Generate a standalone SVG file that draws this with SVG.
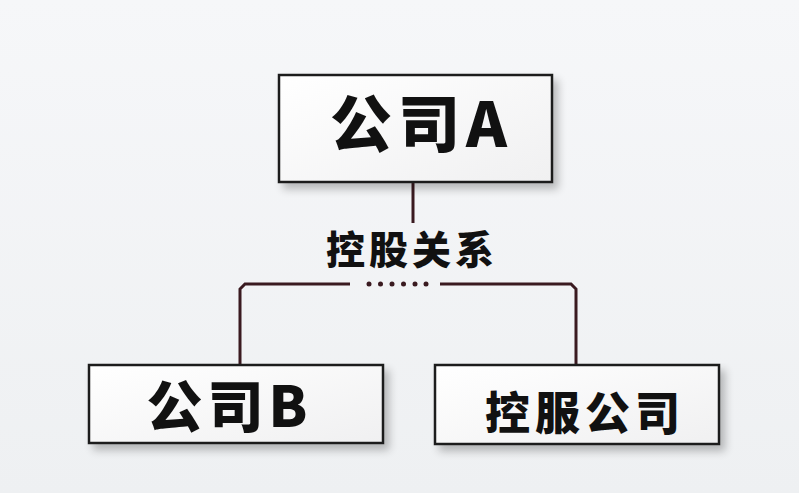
<svg xmlns="http://www.w3.org/2000/svg" width="799" height="493" viewBox="0 0 799 493">
<defs>
<linearGradient id="bg" x1="0" y1="0" x2="0" y2="1">
<stop offset="0" stop-color="#f6f7f9"/><stop offset="1" stop-color="#eef0f2"/>
</linearGradient>
<linearGradient id="box" x1="0" y1="0" x2="1" y2="1">
<stop offset="0" stop-color="#ffffff"/><stop offset="1" stop-color="#f0f0f1"/>
</linearGradient>
<filter id="sh" x="-10%" y="-10%" width="130%" height="140%">
<feGaussianBlur in="SourceAlpha" stdDeviation="4"/>
<feOffset dx="5" dy="6" result="b"/>
<feComponentTransfer><feFuncA type="linear" slope="0.25"/></feComponentTransfer>
<feMerge><feMergeNode/><feMergeNode in="SourceGraphic"/></feMerge>
</filter>
</defs>
<style>
.box{fill:url(#box);stroke:#1e1e1e;stroke-width:2.5;filter:url(#sh)}
.t{font-family:"Noto Sans CJK SC","Liberation Sans",sans-serif;font-weight:900;fill:#111;text-anchor:middle}
.ln{fill:none;stroke:#3a1a20;stroke-width:3}
.dot{fill:#3a1a20}
</style>
<rect width="799" height="493" fill="url(#bg)"/>
<g id="connectors">
<line class="ln" x1="413" y1="182" x2="413" y2="223"/>
<path class="ln" d="M350,284 H245 L240,289 V365"/>
<path class="ln" d="M440,284 H571 L576,289 V365"/>
<g class="dot">
<circle cx="369" cy="284" r="2.5"/><circle cx="380.5" cy="284" r="2.5"/><circle cx="392" cy="284" r="2.5"/>
<circle cx="403.5" cy="284" r="2.5"/><circle cx="415" cy="284" r="2.5"/><circle cx="426" cy="284" r="2.5"/>
</g>
<text class="t" x="412" y="264" font-size="39" letter-spacing="4">控股关系</text>
</g>
<g id="nodeA">
<rect class="box" x="279" y="75" width="273" height="107"/>
<text class="t" x="421.5" y="147" font-size="62" letter-spacing="6">公司A</text>
</g>
<g id="nodeB">
<rect class="box" x="89" y="365" width="294" height="78"/>
<text class="t" x="229.5" y="427" font-size="56" letter-spacing="5">公司B</text>
</g>
<g id="nodeC">
<rect class="box" x="435" y="365" width="284" height="79"/>
<text class="t" x="585" y="430" font-size="45" letter-spacing="5">控服公司</text>
</g>
</svg>
